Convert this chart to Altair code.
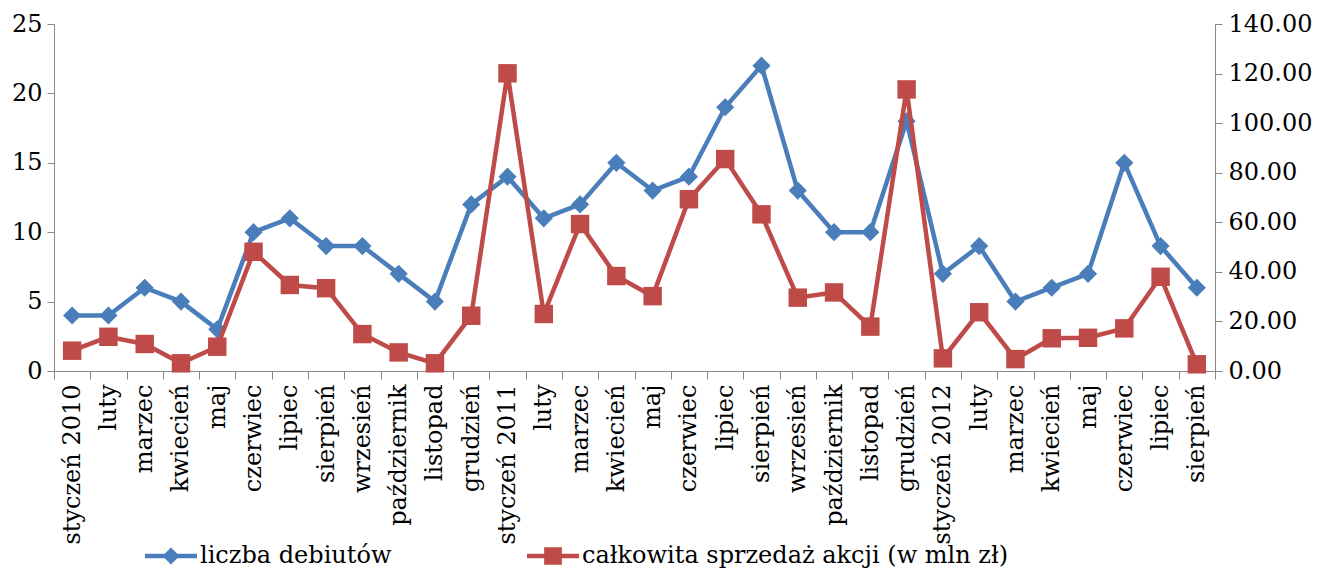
import altair as alt
import pandas as pd

months = ["styczeń 2010", "luty", "marzec", "kwiecień", "maj", "czerwiec", "lipiec",
          "sierpień", "wrzesień", "październik", "listopad", "grudzień",
          "styczeń 2011", "luty", "marzec", "kwiecień", "maj", "czerwiec", "lipiec",
          "sierpień", "wrzesień", "październik", "listopad", "grudzień",
          "styczeń 2012", "luty", "marzec", "kwiecień", "maj", "czerwiec", "lipiec",
          "sierpień"]
debuts = [4, 4, 6, 5, 3, 10, 11, 9, 9, 7, 5, 12,
          14, 11, 12, 15, 13, 14, 19, 22, 13, 10, 10, 18,
          7, 9, 5, 6, 7, 15, 9, 6]
sales = [8.2, 13.8, 10.9, 3.1, 9.8, 48.1, 34.7, 33.4, 14.9, 7.5, 3.1, 22.3,
         120.1, 23.0, 59.3, 38.3, 30.2, 69.3, 85.5, 63.2, 29.6, 31.7, 17.9, 113.6,
         5.1, 23.7, 4.8, 13.2, 13.4, 17.2, 38.0, 2.7]
series_names = ["liczba debiutów", "całkowita sprzedaż akcji (w mln zł)"]

BLUE = "#4A7EBB"
RED = "#BE4B48"
GRAY = "#878787"
FONT = "DejaVu Serif"
FS = 24

keys = [f"{i:02d}" for i in range(len(months))]
df = pd.DataFrame({"key": keys, "debuts": debuts, "sales": sales})

label_array = "[" + ",".join("'" + m + "'" for m in months) + "]"
x_enc = alt.X(
    "key:O",
    bandPosition=0.5,
    scale=alt.Scale(type="band", paddingInner=0, paddingOuter=0),
    axis=alt.Axis(
        title=None,
        labelAngle=-90,
        labelExpr=label_array + "[toNumber(datum.value)]",
        tickBand="extent",
        tickSize=8,
        labelPadding=5,
        labelFont=FONT,
        labelFontSize=FS,
        labelColor="black",
        domainColor=GRAY,
        tickColor=GRAY,
        labelLimit=0,
    ),
)

y_left = alt.Y(
    "debuts:Q",
    scale=alt.Scale(domain=[0, 25]),
    axis=alt.Axis(
        title=None, values=[0, 5, 10, 15, 20, 25], grid=False, tickSize=7,
        labelPadding=5, labelFont=FONT, labelFontSize=FS, labelColor="black",
        domainColor=GRAY, tickColor=GRAY, orient="left",
    ),
)
y_right = alt.Y(
    "sales:Q",
    scale=alt.Scale(domain=[0, 140]),
    axis=alt.Axis(
        title=None, values=list(range(0, 141, 20)), format=".2f", grid=False,
        tickSize=7, labelPadding=6, labelFont=FONT, labelFontSize=FS,
        labelColor="black", domainColor=GRAY, tickColor=GRAY, orient="right",
    ),
)

base = alt.Chart(df)
blue_line = base.mark_line(color=BLUE, strokeWidth=4.5).encode(x=x_enc, y=y_left)
blue_pts = base.mark_point(shape="diamond", filled=True, color=BLUE, size=330, opacity=1).encode(x=x_enc, y=y_left)

sym_diamond = "M-1,-0.085 L1,-0.085 L1,0.085 L-1,0.085 Z M0,-0.33 L0.33,0 L0,0.33 L-0.33,0 Z"
sym_square = "M-1,-0.085 L1,-0.085 L1,0.085 L-1,0.085 Z M-0.34,-0.34 L0.34,-0.34 L0.34,0.34 L-0.34,0.34 Z"

leg_df = pd.DataFrame({"series": series_names})
legend_cfg = dict(
    title=None, orient="none", direction="horizontal", legendX=91, legendY=506,
    symbolSize=2704, symbolStrokeWidth=0, symbolOpacity=1,
    labelFont=FONT, labelFontSize=FS, labelColor="black", labelLimit=0,
    columnPadding=135, labelOffset=3, padding=0,
)
legend_layer = alt.Chart(leg_df).mark_point(filled=True, opacity=0).encode(
    x=alt.value(0), y=alt.value(0),
    color=alt.Color("series:N", scale=alt.Scale(domain=series_names, range=[BLUE, RED]),
                    legend=alt.Legend(**legend_cfg)),
    shape=alt.Shape("series:N", scale=alt.Scale(domain=series_names, range=[sym_diamond, sym_square]),
                    legend=alt.Legend(**legend_cfg)),
)

red_line = base.mark_line(color=RED, strokeWidth=4.5).encode(x=x_enc, y=y_right)
red_pts = base.mark_point(shape="square", filled=True, color=RED, size=340, opacity=1).encode(x=x_enc, y=y_right)

left = alt.layer(blue_line, blue_pts, legend_layer)
right = alt.layer(red_line, red_pts)

chart = alt.layer(left, right).resolve_scale(y="independent").properties(
    width=1161, height=347,
    autosize=alt.AutoSizeParams(type="none"),
    padding={"left": 46, "top": 16, "right": 100, "bottom": 202},
).configure_view(stroke=None)

chart.save("out.html", embed_options={"renderer": "svg", "actions": False})
